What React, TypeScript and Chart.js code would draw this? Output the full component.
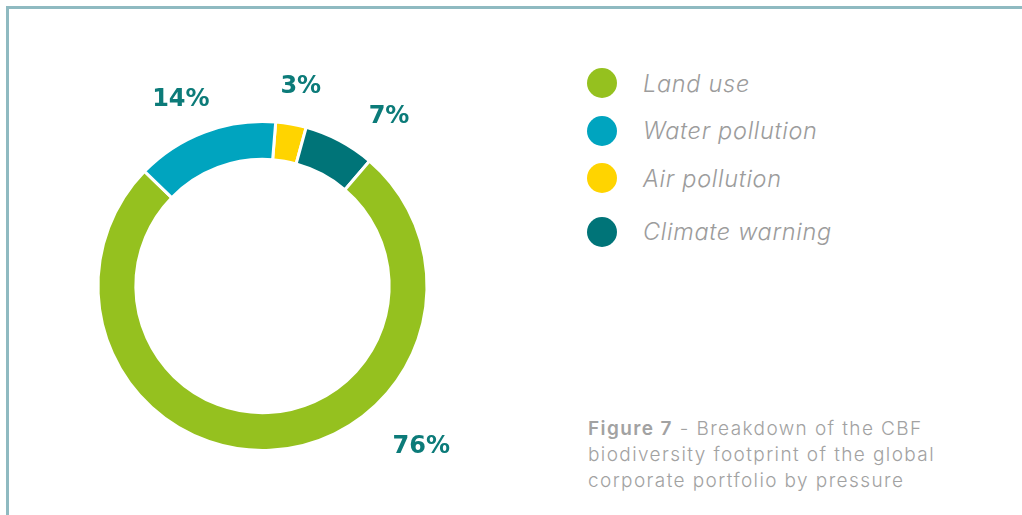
import React, { useEffect, useRef } from "react";
import { Chart, registerables } from "chart.js";

Chart.register(...registerables);

// Drawing order (clockwise from just right of 12 o'clock)
const categories = ["Air pollution", "Climate warning", "Land use", "Water pollution"];
const values = [3, 7, 76, 14];
const labels = ["3%", "7%", "76%", "14%"];
const colors = ["#ffd400", "#007478", "#95c11f", "#00a4bf"];

// Legend order
const legendOrder = ["Land use", "Water pollution", "Air pollution", "Climate warning"];

// label placement: fraction along segment, radius multiple
const labelFrac = [0.58, 0.85, 0.3465, 0.44];
const labelRad = [1.245, 1.295, 1.387, 1.25];

const W = 1022;
const H = 515;

const labelPlugin = {
  id: "pctLabels",
  afterDatasetsDraw(chart: any) {
    const { ctx } = chart;
    const meta = chart.getDatasetMeta(0);
    ctx.save();
    ctx.fillStyle = "#0c7b79";
    ctx.font = "bold 24px 'DejaVu Sans'";
    ctx.textAlign = "center";
    ctx.textBaseline = "middle";
    meta.data.forEach((arc: any, i: number) => {
      const p = arc.getProps(["x", "y", "startAngle", "endAngle", "outerRadius"], true);
      const a = p.startAngle + (p.endAngle - p.startAngle) * labelFrac[i];
      const r = 163 * labelRad[i];
      ctx.fillText(labels[i], p.x + Math.cos(a) * r, p.y + Math.sin(a) * r);
    });
    ctx.restore();
  },
};

export default function App() {
  const ref = useRef<HTMLCanvasElement | null>(null);

  useEffect(() => {
    document.body.style.margin = "0";
    const chart = new Chart(ref.current as HTMLCanvasElement, {
      type: "doughnut",
      data: {
        labels: categories,
        datasets: [
          {
            data: values,
            backgroundColor: colors,
            borderColor: "#ffffff",
            borderWidth: 3,
          },
        ],
      },
      options: {
        animation: false,
        responsive: false,
        rotation: 4.6,
        cutout: "77%",
        layout: { padding: { left: 96.5, top: 120, right: 131.5, bottom: 63 } },
        plugins: { legend: { display: false }, tooltip: { enabled: false } },
      },
      plugins: [labelPlugin],
    });
    return () => chart.destroy();
  }, []);

  const legendGaps = [0, 47.5, 47.5, 53.5];
  let y = 83.3;

  return (
    <div style={{ position: "absolute", left: 0, top: 0, width: W, height: H, background: "#fff", overflow: "hidden" }}>
      <div style={{ position: "absolute", left: 6, top: 6, width: W, height: 3, background: "#8fbac1" }} />
      <div style={{ position: "absolute", left: 6, top: 6, width: 3, height: H, background: "#8fbac1" }} />
      <canvas ref={ref} width={560} height={515} style={{ position: "absolute", left: 0, top: 0, width: 560, height: 515 }} />
      {legendOrder.map((name, i) => {
        y += legendGaps[i];
        const idx = categories.indexOf(name);
        return (
          <div key={name} style={{ position: "absolute", left: 587, top: y - 16, height: 32, display: "flex", alignItems: "center" }}>
            <div style={{ width: 30, height: 30, borderRadius: "50%", background: colors[idx] }} />
            <span
              style={{
                marginLeft: 26,
                fontFamily: "Inter, sans-serif",
                fontStyle: "italic",
                fontWeight: 300,
                fontSize: 23.5,
                letterSpacing: "0.7px",
                color: "#9c9c9c",
                whiteSpace: "nowrap",
              }}
            >
              {name}
            </span>
          </div>
        );
      })}
      <div
        style={{
          position: "absolute",
          left: 588,
          top: 416,
          fontFamily: "Inter, sans-serif",
          fontWeight: 300,
          fontSize: 19,
          letterSpacing: "1.4px",
          lineHeight: "26px",
          color: "#a2a2a2",
          width: 430,
          whiteSpace: "nowrap",
        }}
      >
        <span style={{ fontWeight: 600 }}>Figure 7</span> - Breakdown of the CBF
        <br />
        biodiversity footprint of the global
        <br />
        corporate portfolio by pressure
      </div>
    </div>
  );
}
